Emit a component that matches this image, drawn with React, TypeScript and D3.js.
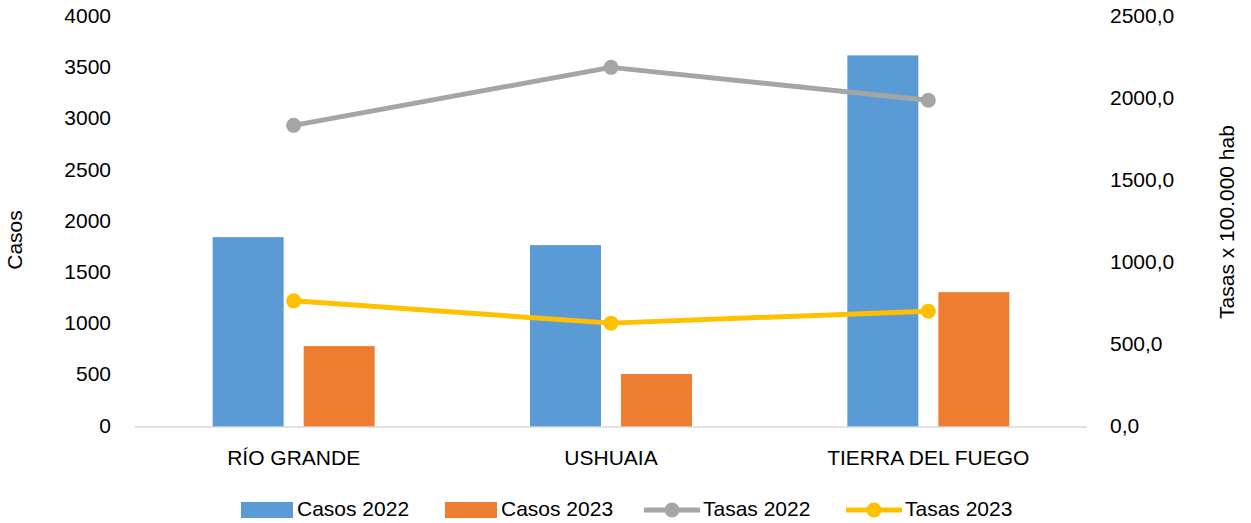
import React from "react";
import * as d3 from "d3";

const categories = ["RÍO GRANDE", "USHUAIA", "TIERRA DEL FUEGO"];
const casos2022 = [1854, 1776, 3629];
const casos2023 = [790, 517, 1317];
const tasas2022 = [1841, 2195, 1994];
const tasas2023 = [770, 634, 707];
const leftTicks = [0, 500, 1000, 1500, 2000, 2500, 3000, 3500, 4000];
const rightTicks = [0, 500, 1000, 1500, 2000, 2500];

const W = 1251, H = 523;
const FONT = "'Liberation Sans', Arial, sans-serif";
const C_BLUE = "#5B9BD5", C_ORANGE = "#ED7D31", C_GRAY = "#A5A5A5", C_YELLOW = "#FFC000";

export default function App() {
  const left = 135, right = 1087, top = 17.4, bottom = 427;
  const x0 = d3.scaleBand<string>().domain(categories).range([left, right]).padding(0);
  const barSeries = ["c22", "c23"];
  const x1 = d3.scaleBand<string>().domain(barSeries).range([-81, 81]).paddingInner(0.22).paddingOuter(0);
  const yL = d3.scaleLinear().domain([0, 4000]).range([bottom, top]);
  const yR = d3.scaleLinear().domain([0, 2500]).range([bottom, top]);
  const cx = (c: string) => (x0(c) as number) + x0.bandwidth() / 2;
  const line = d3.line<[number, number]>().x(d => d[0]).y(d => d[1]);
  const fmtR = (v: number) => v.toFixed(1).replace(".", ",");

  const bars = [
    { key: "c22", vals: casos2022, color: C_BLUE },
    { key: "c23", vals: casos2023, color: C_ORANGE },
  ];
  const lines = [
    { vals: tasas2022, color: C_GRAY },
    { vals: tasas2023, color: C_YELLOW },
  ];

  const legend = [
    { label: "Casos 2022", type: "bar", color: C_BLUE, x: 241 },
    { label: "Casos 2023", type: "bar", color: C_ORANGE, x: 445 },
    { label: "Tasas 2022", type: "line", color: C_GRAY, x: 644 },
    { label: "Tasas 2023", type: "line", color: C_YELLOW, x: 846 },
  ];
  const ly = 510;

  return (
    <div style={{ position: "absolute", left: 0, top: 0 }}>
      <svg width={W} height={H} style={{ display: "block", background: "#fff" }} fontFamily={FONT}>
        <rect x={0} y={0} width={W} height={H} fill="#fff" />
        {bars.map(s =>
          categories.map((c, i) => (
            <rect key={s.key + c} x={cx(c) + (x1(s.key) as number)} y={yL(s.vals[i])}
              width={x1.bandwidth()} height={bottom - yL(s.vals[i])} fill={s.color} />
          ))
        )}
        <line x1={left} x2={right} y1={bottom} y2={bottom} stroke="#D9D9D9" strokeWidth={1.5} />
        {lines.map((s, k) => (
          <g key={k}>
            <path d={line(categories.map((c, i) => [cx(c), yR(s.vals[i])] as [number, number])) || ""}
              fill="none" stroke={s.color} strokeWidth={5} strokeLinejoin="round" />
            {categories.map((c, i) => (
              <circle key={c} cx={cx(c)} cy={yR(s.vals[i])} r={7.5} fill={s.color} />
            ))}
          </g>
        ))}
        {leftTicks.map(t => (
          <text key={t} x={111} y={yL(t)} textAnchor="end" dominantBaseline="middle" fontSize={21} fill="#000">{t}</text>
        ))}
        {rightTicks.map(t => (
          <text key={t} x={1110} y={yR(t)} textAnchor="start" dominantBaseline="middle" fontSize={21} fill="#000">{fmtR(t)}</text>
        ))}
        {categories.map(c => (
          <text key={c} x={cx(c)} y={459} textAnchor="middle" dominantBaseline="middle" fontSize={21} fill="#000">{c}</text>
        ))}
        <text transform="translate(16,240) rotate(-90)" textAnchor="middle" dominantBaseline="middle" fontSize={21} fill="#000">Casos</text>
        <text transform="translate(1228,222) rotate(-90)" textAnchor="middle" dominantBaseline="middle" fontSize={21} fill="#000">Tasas x 100.000 hab</text>
        {legend.map(l => (
          <g key={l.label}>
            {l.type === "bar" ? (
              <rect x={l.x} y={ly - 8} width={52} height={16} fill={l.color} />
            ) : (
              <g>
                <line x1={l.x} x2={l.x + 56} y1={ly} y2={ly} stroke={l.color} strokeWidth={5} />
                <circle cx={l.x + 28} cy={ly} r={7.5} fill={l.color} />
              </g>
            )}
            <text x={l.type === "bar" ? l.x + 56 : l.x + 59} y={ly} dominantBaseline="middle" fontSize={21} fill="#000">{l.label}</text>
          </g>
        ))}
      </svg>
    </div>
  );
}
